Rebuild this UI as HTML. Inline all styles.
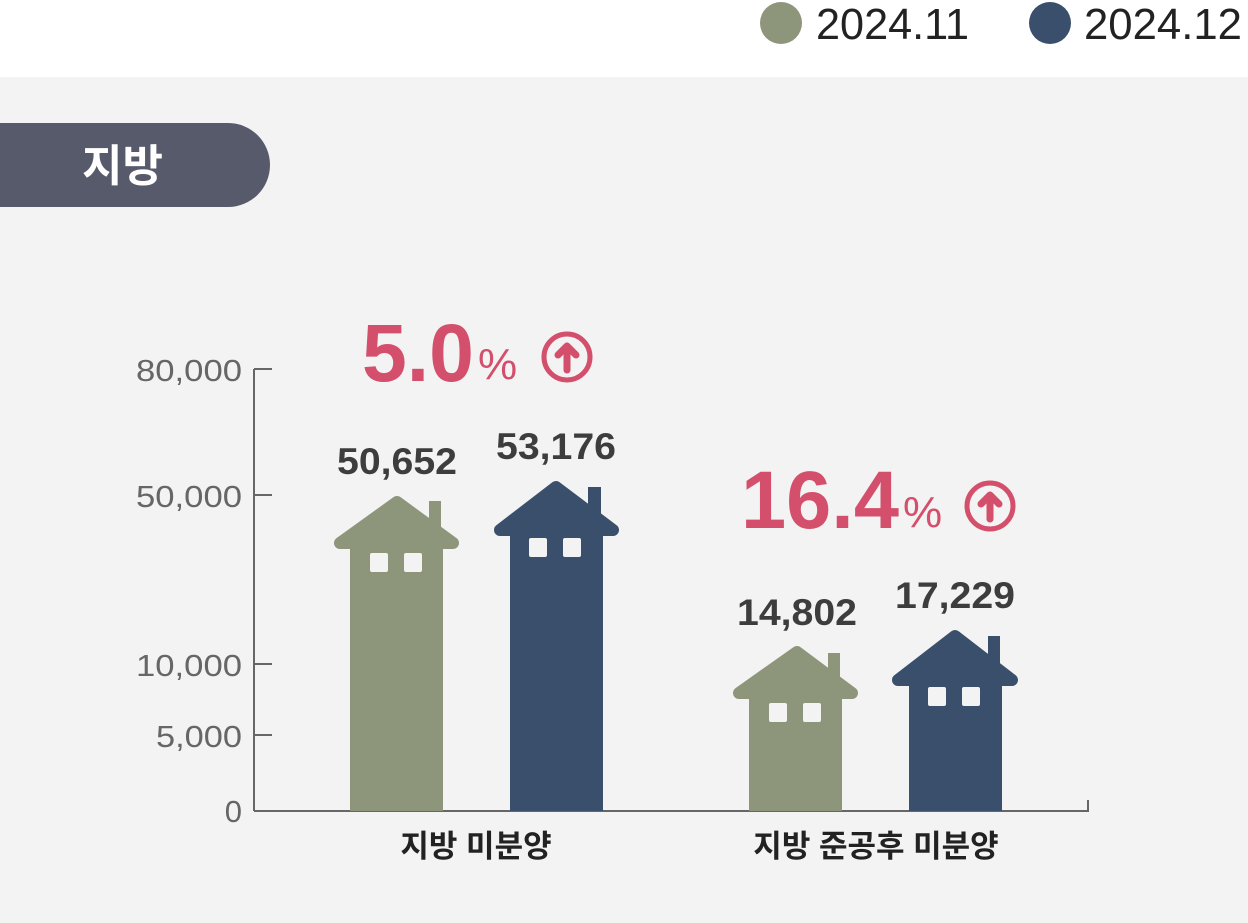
<!DOCTYPE html>
<html><head><meta charset="utf-8"><style>
html,body{margin:0;padding:0;background:#fff}
svg{display:block}
text{font-family:"Liberation Sans","Noto Sans CJK KR",sans-serif}
</style></head><body>
<svg width="1248" height="923" viewBox="0 0 1248 923" xmlns="http://www.w3.org/2000/svg">
<rect x="0" y="0" width="1248" height="923" fill="#fff"/>
<rect x="0" y="77" width="1248" height="846" fill="#f2f3f2"/>
<circle cx="781" cy="23" r="21" fill="#8d957b"/>
<text x="816" y="39" font-size="44" fill="#222" textLength="153" lengthAdjust="spacingAndGlyphs">2024.11</text>
<circle cx="1050" cy="23" r="21" fill="#3a4f6c"/>
<text x="1084" y="39" font-size="44" fill="#222" textLength="158" lengthAdjust="spacingAndGlyphs">2024.12</text>
<path d="M0 123 H228 A42 42 0 0 1 228 207 H0 Z" fill="#575a6b"/>
<text x="82" y="181" font-size="44" font-weight="bold" fill="#fff">지방</text>
<g stroke="#666" stroke-width="2" fill="none">
<line x1="254" y1="369" x2="254" y2="811"/>
<line x1="254" y1="811" x2="1088" y2="811"/>
<line x1="1088" y1="800" x2="1088" y2="812"/>
<line x1="254" y1="369" x2="272" y2="369"/>
<line x1="254" y1="495" x2="272" y2="495"/>
<line x1="254" y1="664" x2="272" y2="664"/>
<line x1="254" y1="735" x2="272" y2="735"/>
</g>
<g font-size="31" fill="#666" text-anchor="end">
<text x="242" y="381" textLength="106" lengthAdjust="spacingAndGlyphs">80,000</text>
<text x="242" y="507" textLength="106" lengthAdjust="spacingAndGlyphs">50,000</text>
<text x="242" y="676" textLength="106" lengthAdjust="spacingAndGlyphs">10,000</text>
<text x="242" y="747" textLength="86" lengthAdjust="spacingAndGlyphs">5,000</text>
<text x="242" y="822">0</text>
</g>
<g fill="#8d957b" stroke="#8d957b">
<rect x="429" y="501" width="12" height="40" stroke="none"/>
<polygon points="340,543 397,502 453,543" stroke-width="12" stroke-linejoin="round"/>
<rect x="350" y="540" width="93" height="271" stroke="none"/>
</g>
<g fill="#3a4f6c" stroke="#3a4f6c">
<rect x="588" y="487" width="13" height="40" stroke="none"/>
<polygon points="500,530 556,487 613,530" stroke-width="12" stroke-linejoin="round"/>
<rect x="510" y="527" width="93" height="284" stroke="none"/>
</g>
<g fill="#8d957b" stroke="#8d957b">
<rect x="828" y="653" width="12" height="40" stroke="none"/>
<polygon points="739,693 797,652 852,693" stroke-width="12" stroke-linejoin="round"/>
<rect x="749" y="690" width="93" height="121" stroke="none"/>
</g>
<g fill="#3a4f6c" stroke="#3a4f6c">
<rect x="988" y="636" width="12" height="40" stroke="none"/>
<polygon points="898,680 955,636 1012,680" stroke-width="12" stroke-linejoin="round"/>
<rect x="909" y="677" width="93" height="134" stroke="none"/>
</g>
<g fill="#f2f3f2">
<rect x="370" y="553" width="18" height="19" rx="2"/><rect x="404" y="553" width="18" height="19" rx="2"/>
<rect x="529" y="538" width="18" height="19" rx="2"/><rect x="563" y="538" width="18" height="19" rx="2"/>
<rect x="769" y="703" width="18" height="19" rx="2"/><rect x="803" y="703" width="18" height="19" rx="2"/>
<rect x="928" y="687" width="18" height="19" rx="2"/><rect x="962" y="687" width="18" height="19" rx="2"/>
</g>
<g font-size="37" font-weight="bold" fill="#3d3d3d" text-anchor="middle">
<text x="397" y="474" textLength="120" lengthAdjust="spacingAndGlyphs">50,652</text>
<text x="556" y="459" textLength="120" lengthAdjust="spacingAndGlyphs">53,176</text>
<text x="797" y="625" textLength="120" lengthAdjust="spacingAndGlyphs">14,802</text>
<text x="955" y="608" textLength="120" lengthAdjust="spacingAndGlyphs">17,229</text>
</g>
<g fill="#d34f6b">
<text x="362" y="381" font-size="82" font-weight="bold" textLength="112" lengthAdjust="spacingAndGlyphs">5.0</text>
<text x="478" y="379" font-size="44">%</text>
<text x="741" y="528" font-size="82" font-weight="bold" textLength="158" lengthAdjust="spacingAndGlyphs">16.4</text>
<text x="903" y="527" font-size="44">%</text>
</g>
<g fill="none" stroke="#d34f6b" stroke-linecap="round" stroke-linejoin="round">
<circle cx="567" cy="357" r="23" stroke-width="5"/>
<path d="M567 370 V346 M558 355 L567 346 L576 355" stroke-width="7"/>
<circle cx="990" cy="506" r="23" stroke-width="5"/>
<path d="M990 519 V495 M981 504 L990 495 L999 504" stroke-width="7"/>
</g>
<g font-size="31" font-weight="bold" fill="#222" text-anchor="middle">
<text x="476" y="857">지방 미분양</text>
<text x="876" y="857">지방 준공후 미분양</text>
</g>
</svg>
</body></html>
